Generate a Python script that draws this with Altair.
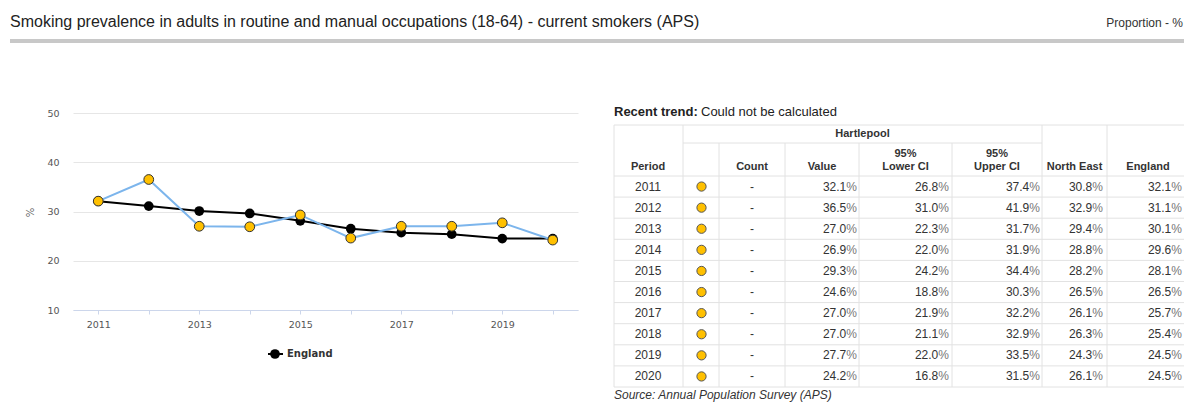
import altair as alt
import pandas as pd

# ---------------- data ----------------
years = [2011, 2012, 2013, 2014, 2015, 2016, 2017, 2018, 2019, 2020]
hartlepool = [32.1, 36.5, 27.0, 26.9, 29.3, 24.6, 27.0, 27.0, 27.7, 24.2]
lower_ci = [26.8, 31.0, 22.3, 22.0, 24.2, 18.8, 21.9, 21.1, 22.0, 16.8]
upper_ci = [37.4, 41.9, 31.7, 31.9, 34.4, 30.3, 32.2, 32.9, 33.5, 31.5]
north_east = [30.8, 32.9, 29.4, 28.8, 28.2, 26.5, 26.1, 26.3, 24.3, 26.1]
england = [32.1, 31.1, 30.1, 29.6, 28.1, 26.5, 25.7, 25.4, 24.5, 24.5]
y_ticks = [10, 20, 30, 40, 50]

title_text = "Smoking prevalence in adults in routine and manual occupations (18-64) - current smokers (APS)"
unit_text = "Proportion - %"
trend_label = "Recent trend:"
trend_text = "Could not be calculated"
source_text = "Source: Annual Population Survey (APS)"

df_h = pd.DataFrame({"Year": years, "Value": hartlepool})
df_e = pd.DataFrame({"Year": years, "Value": england})
tdf = pd.DataFrame({
    "Period": years, "Value": hartlepool, "Lower": lower_ci,
    "Upper": upper_ci, "NE": north_east, "Eng": england,
})
one = pd.DataFrame({"a": [0]})

# ---------------- styles / layout ----------------
ARIAL = "Liberation Sans"
DV = "DejaVu Sans"
GRID = "#e6e6e6"
BORDER = "#e2e2e2"
BLUE = "#7cb5ec"
GOLD = "#ffc000"
RIGHT_EDGE = 1111  # plot-coordinate x of the drawing's right edge

# ---------------- line chart ----------------
xenc = alt.X("Year:Q",
             scale=alt.Scale(domain=[2010.5, 2020.5], nice=False, zero=False),
             axis=alt.Axis(values=years, format="d",
                           labelExpr="datum.value % 2 == 1 ? datum.label : ''",
                           grid=False, domainColor="#ccd6eb", tickColor="#ccd6eb",
                           tickSize=4, labelPadding=5, labelFont=DV, labelFontSize=9.5,
                           labelColor="#555", title=None))
yenc = alt.Y("Value:Q",
             scale=alt.Scale(domain=[10, 50], nice=False, zero=False),
             axis=alt.Axis(values=y_ticks, grid=True, gridColor=GRID, domain=False,
                           ticks=False, tickSize=0, labelPadding=14, labelFont=DV,
                           labelFontSize=9.5, labelColor="#555",
                           title="%", titleAngle=270, titleX=-43, titleY=99,
                           titleFont=DV, titleFontSize=10, titleFontWeight="normal",
                           titleColor="#666", titleAlign="center", titleBaseline="middle"))

eng_line = alt.Chart(df_e).mark_line(color="black", strokeWidth=2).encode(x=xenc, y=yenc)
eng_pts = alt.Chart(df_e).mark_point(filled=True, color="black", size=95, opacity=1).encode(x="Year:Q", y="Value:Q")
hp_line = alt.Chart(df_h).mark_line(color=BLUE, strokeWidth=2).encode(x="Year:Q", y="Value:Q")
hp_pts = alt.Chart(df_h).mark_point(filled=True, fill=GOLD, stroke="#333", strokeWidth=1,
                                    size=95, opacity=1).encode(x="Year:Q", y="Value:Q")
line_group = alt.layer(eng_line, eng_pts, hp_line, hp_pts)

# legend (England only)
leg_line = alt.Chart(one).mark_rule(color="black", strokeWidth=2).encode(
    x=alt.value(195), x2=alt.value(210), y=alt.value(241))
leg_pt = alt.Chart(one).mark_point(filled=True, color="black", size=95, opacity=1).encode(
    x=alt.value(202), y=alt.value(241))
leg_txt = alt.Chart(one).mark_text(text="England", align="left", baseline="middle", font=DV,
                                   fontSize=10, fontWeight="bold", color="#333").encode(
    x=alt.value(214), y=alt.value(241))

# ---------------- header ----------------
head = [
    alt.Chart(one).mark_text(text=title_text, align="left", baseline="alphabetic", font=ARIAL,
                             fontSize=16, color="#222").encode(x=alt.value(-63), y=alt.value(-86)),
    alt.Chart(one).mark_text(text=unit_text, align="right", baseline="alphabetic", font=ARIAL,
                             fontSize=12, color="#333").encode(x=alt.value(RIGHT_EDGE - 1), y=alt.value(-86)),
    alt.Chart(one).mark_rule(color="#c8c8c8", strokeWidth=4).encode(
        x=alt.value(-63), x2=alt.value(RIGHT_EDGE), y=alt.value(-72)),
]

# ---------------- table ----------------
T_LEFT, T_RIGHT = 541, RIGHT_EDGE
T_TOP, T_MID, T_HEAD, T_BOT = 12, 30, 63, 274
ROW_H = (T_BOT - T_HEAD) / len(years)
yrow = alt.Y("Period:Q", scale=alt.Scale(domain=[years[0], years[-1]],
                                         range=[T_HEAD + ROW_H / 2, T_BOT - ROW_H / 2],
                                         nice=False, zero=False), axis=None)
tb = alt.Chart(tdf)
tlayers = []
# horizontal row lines
tlayers.append(tb.mark_rule(color=BORDER, yOffset=ROW_H / 2).encode(
    y=yrow, x=alt.value(T_LEFT), x2=alt.value(T_RIGHT)))
for (yy, xa, xb) in [(T_TOP, T_LEFT, T_RIGHT), (T_MID, 610, 969), (T_HEAD, T_LEFT, T_RIGHT)]:
    tlayers.append(alt.Chart(one).mark_rule(color=BORDER).encode(
        y=alt.value(yy), x=alt.value(xa), x2=alt.value(xb)))
for (xx, ya) in [(T_LEFT, T_TOP), (610, T_TOP), (646, T_MID), (712, T_MID), (786, T_MID),
                 (879, T_MID), (969, T_TOP), (1034, T_TOP)]:
    tlayers.append(alt.Chart(one).mark_rule(color=BORDER).encode(
        x=alt.value(xx), y=alt.value(ya), y2=alt.value(T_BOT)))

# header texts
hdr = [("Hartlepool", 789.5, 21), ("Period", 575, 54), ("Count", 679, 54), ("Value", 749, 54),
       ("95%", 832.5, 41), ("Lower CI", 832.5, 54), ("95%", 924, 41), ("Upper CI", 924, 54),
       ("North East", 1001.5, 54), ("England", 1075, 54)]
for (t, xx, yy) in hdr:
    tlayers.append(alt.Chart(one).mark_text(text=t, align="center", baseline="middle", font=ARIAL,
                                            fontSize=11, fontWeight="bold", color="#333").encode(
        x=alt.value(xx), y=alt.value(yy)))

# body cells
tlayers.append(tb.mark_text(align="center", baseline="middle", font=ARIAL, fontSize=12,
                            color="#333").encode(y=yrow, x=alt.value(575),
                                                 text=alt.Text("Period:Q", format="d")))
tlayers.append(tb.mark_point(filled=True, fill=GOLD, stroke="#555", strokeWidth=1, size=85,
                             opacity=1).encode(y=yrow, x=alt.value(628.5)))
tlayers.append(tb.mark_text(text="-", align="center", baseline="middle", font=ARIAL, fontSize=12,
                            color="#333").encode(y=yrow, x=alt.value(679)))
PCT_W = 10.7
for field, rx in [("Value", 784), ("Lower", 876), ("Upper", 967), ("NE", 1030), ("Eng", 1109)]:
    tlayers.append(tb.mark_text(align="right", baseline="middle", font=ARIAL, fontSize=12,
                                color="#333").encode(y=yrow, x=alt.value(rx - PCT_W),
                                                     text=alt.Text(f"{field}:Q", format=".1f")))
    tlayers.append(tb.mark_text(text="%", align="right", baseline="middle", font=ARIAL,
                                fontSize=12, color="#777").encode(y=yrow, x=alt.value(rx)))
table_group = alt.layer(*tlayers)

extra = [
    alt.Chart(one).mark_text(text=trend_label, align="left", baseline="middle", font=ARIAL,
                             fontSize=13, fontWeight="bold", color="#222").encode(
        x=alt.value(541), y=alt.value(-1)),
    alt.Chart(one).mark_text(text=trend_text, align="left", baseline="middle", font=ARIAL,
                             fontSize=13, color="#222").encode(x=alt.value(628), y=alt.value(-1)),
    alt.Chart(one).mark_text(text=source_text, align="left", baseline="middle", font=ARIAL,
                             fontSize=12, fontStyle="italic", color="#333").encode(
        x=alt.value(541), y=alt.value(282)),
]

chart = alt.layer(line_group, table_group, leg_line, leg_pt, leg_txt, *head, *extra).resolve_scale(
    y="independent"
).properties(
    width=505, height=197,
    padding={"left": 65, "top": 105, "right": 606, "bottom": 94},
    autosize=alt.AutoSizeParams(type="none"),
).configure_view(stroke=None)

chart.save("out.html", embed_options={"renderer": "svg", "actions": False})
